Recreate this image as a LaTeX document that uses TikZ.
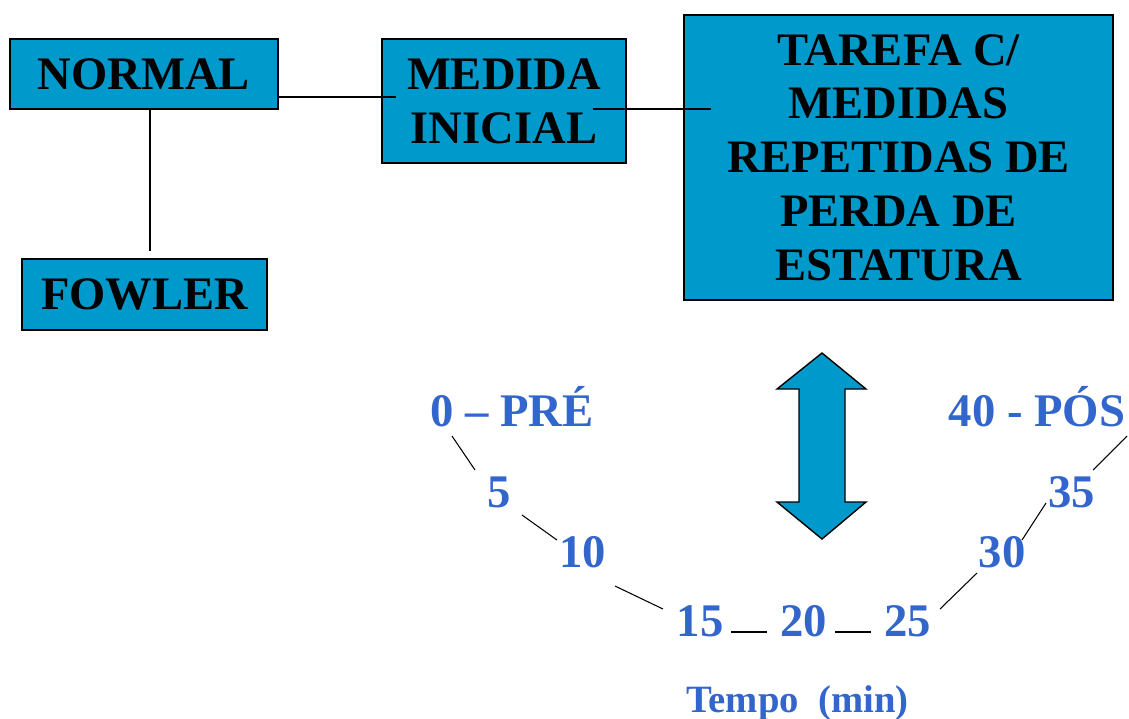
\documentclass[tikz,border=0pt]{standalone}
\usepackage{fontspec}
\setmainfont{Liberation Serif}
\definecolor{boxblue}{HTML}{0099CC}
\definecolor{numblue}{HTML}{3366CC}
\begin{document}
\begin{tikzpicture}[x=0.02cm,y=-0.02cm,
        box/.style={draw,line width=.8pt,fill=boxblue,inner sep=0pt,align=center,
            font=\fontsize{26.5}{30.6}\selectfont\bfseries},
        num/.style={text=numblue,inner sep=0pt,anchor=base,
            font=\fontsize{26.6}{30}\selectfont\bfseries},
        link/.style={line width=.6pt}]
                \useasboundingbox (0,0) rectangle (1129,718);
                \node[box,minimum width=268*0.02cm,minimum height=70*0.02cm] (normal) at (144,74) {NORMAL};
                \node[box,minimum width=245*0.02cm,minimum height=71*0.02cm] (fowler) at (144.5,294.5) {FOWLER};
                \node[box,minimum width=244*0.02cm,minimum height=124*0.02cm] (medida) at (504,101) {MEDIDA\\INICIAL};
                \node[box,minimum width=429*0.02cm,minimum height=285*0.02cm] (tarefa) at (898.5,157.5) {TAREFA C/\\MEDIDAS\\REPETIDAS DE\\PERDA DE\\ESTATURA};
                \draw[link] (normal.east) ++(0,23) -- ++(117,0);
                \draw[link] (medida.east) ++(-34,8) -- ++(118,0);
                \draw[link] (normal.south) ++(6,0) -- ++(0,141);
                % seta dupla
                \draw[line width=.8pt,fill=boxblue] (822,353) -- (866,389) -- (845,389) -- (845,502) -- (866,502)
                    -- (822,539) -- (777,502) -- (799,502) -- (799,389) -- (777,389) -- cycle;
                % tempos
                \node[num] (p0) at (512,426) {0 -- PRÉ};
                \node[num] (p5) at (499,507) {5};
                \node[num] (p10) at (582.5,567) {10};
                \node[num] (p15) at (700,636) {15};
                \node[num] (p20) at (803.5,636) {20};
                \node[num] (p25) at (907.5,636) {25};
                \node[num] (p30) at (1002,567) {30};
                \node[num] (p35) at (1071.5,507) {35};
                \node[num] (p40) at (1037,426) {40 - PÓS};
                \node[num,font=\fontsize{22}{26}\selectfont\bfseries] (tempo) at (797.5,712) {Tempo\ \ (min)};
                \draw[link] ([shift={(-60,10)}]p0.base) -- ([shift={(-24,-37)}]p5.base);
                \draw[link] ([shift={(23,8)}]p5.base) -- ([shift={(-25.5,-27)}]p10.base);
                \draw[link] ([shift={(32.5,19)}]p10.base) -- ([shift={(-37,-27)}]p15.base);
                \draw[link] ([shift={(31,-4)}]p15.base) -- ([shift={(-36.5,-4)}]p20.base);
                \draw[link] ([shift={(31.5,-4)}]p20.base) -- ([shift={(-36.5,-4)}]p25.base);
                \draw[link] ([shift={(32.5,-27)}]p25.base) -- ([shift={(-25,6)}]p30.base);
                \draw[link] ([shift={(20,-27)}]p30.base) -- ([shift={(-25.5,-4)}]p35.base);
                \draw[link] ([shift={(21.5,-37)}]p35.base) -- ([shift={(90,10)}]p40.base);
            \end{tikzpicture}
\end{document}
